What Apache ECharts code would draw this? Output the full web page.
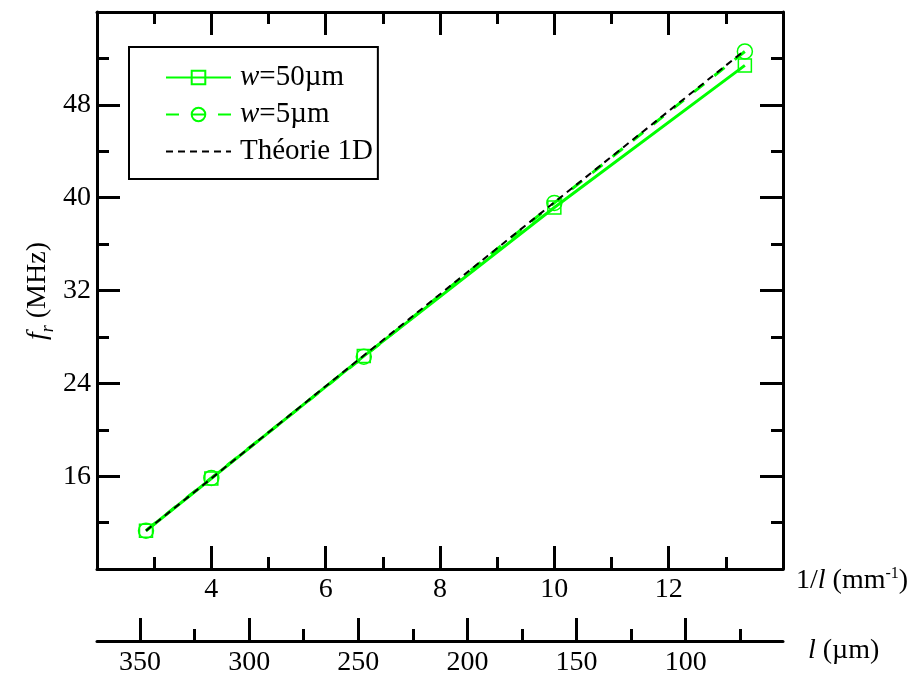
<!DOCTYPE html>
<html>
<head>
<meta charset="utf-8">
<script src="https://cdn.jsdelivr.net/npm/echarts@6/dist/echarts.min.js"></script>
<style>html,body{margin:0;padding:0;background:#fff}#c{width:912px;height:673px}</style>
</head>
<body>
<div id="c"></div>
<script>
// 1/l in mm^-1 (l = 350, 250, 150, 100, 75 µm)
const invL = [2.857, 4, 6.667, 10, 13.333];
const w50 = [11.3, 15.8, 26.35, 39.15, 51.4];
const w5 = [11.3, 15.85, 26.3, 39.55, 52.6];
const theory = [11.3, 15.8, 26.4, 39.6, 52.7];
const seriesNames = ['w=50µm', 'w=5µm', 'Théorie 1D'];
const lTicks = [350, 300, 250, 200, 150, 100];
const lMinorTicks = [325, 275, 225, 175, 125, 75];

const FONT = '"Liberation Serif", "Times New Roman", serif';
const FS = 28;
const LFS = 29;
const BLACK = '#000';
const GREEN = '#00ff00';
const axisLineStyle = {color: BLACK, width: 3};
const tickStyle = {color: BLACK, width: 3};

const chart = echarts.init(document.getElementById('c'), null, {renderer: 'canvas'});

const pairs = arr => invL.map((x, i) => [x, arr[i]]);

const option = {
  animation: false,
  backgroundColor: '#fff',
  grid: {left: 97, top: 12, width: 686, height: 557, containLabel: false, outerBoundsMode: 'none'},
  xAxis: [
    {
      type: 'value', position: 'bottom', min: 2, max: 14, interval: 2,
      axisLine: {show: true, onZero: false, lineStyle: axisLineStyle},
      axisTick: {show: true, inside: true, length: 23, lineStyle: tickStyle},
      minorTick: {show: true, splitNumber: 2, length: 12, lineStyle: tickStyle},
      axisLabel: {showMinLabel: false, showMaxLabel: false, fontSize: FS, fontFamily: FONT, color: BLACK, margin: 7},
      splitLine: {show: false}
    },
    {
      type: 'value', position: 'top', min: 2, max: 14, interval: 2,
      axisLine: {show: true, onZero: false, lineStyle: axisLineStyle},
      axisTick: {show: true, inside: true, length: 23, lineStyle: tickStyle},
      minorTick: {show: true, splitNumber: 2, length: 12, lineStyle: tickStyle},
      axisLabel: {show: false},
      splitLine: {show: false}
    },
    {
      type: 'value', position: 'bottom', offset: 72, min: 55.4, max: 369.7, inverse: true,
      axisLine: {show: true, onZero: false, lineStyle: axisLineStyle},
      axisTick: {show: true, inside: true, length: 23, lineStyle: tickStyle, customValues: lTicks},
      axisLabel: {show: true, customValues: lTicks, fontSize: FS, fontFamily: FONT, color: BLACK, margin: 8},
      splitLine: {show: false}
    },
    {
      type: 'value', position: 'bottom', offset: 72, min: 55.4, max: 369.7, inverse: true,
      axisLine: {show: false},
      axisTick: {show: true, inside: true, length: 12, lineStyle: tickStyle, customValues: lMinorTicks},
      axisLabel: {show: false},
      splitLine: {show: false}
    }
  ],
  yAxis: [
    {
      type: 'value', position: 'left', min: 8, max: 56, interval: 8,
      axisLine: {show: true, onZero: false, lineStyle: axisLineStyle},
      axisTick: {show: true, inside: true, length: 23, lineStyle: tickStyle},
      minorTick: {show: true, splitNumber: 2, length: 12, lineStyle: tickStyle},
      axisLabel: {showMinLabel: false, showMaxLabel: false, fontSize: FS, fontFamily: FONT, color: BLACK, margin: 6},
      splitLine: {show: false}
    },
    {
      type: 'value', position: 'right', min: 8, max: 56, interval: 8,
      axisLine: {show: true, onZero: false, lineStyle: axisLineStyle},
      axisTick: {show: true, inside: true, length: 23, lineStyle: tickStyle},
      minorTick: {show: true, splitNumber: 2, length: 12, lineStyle: tickStyle},
      axisLabel: {show: false},
      splitLine: {show: false}
    }
  ],
  legend: {
    orient: 'vertical', left: 129, top: 47,
    padding: [16, 5, 13, 36], itemGap: 8, itemWidth: 65, itemHeight: 17,
    borderColor: BLACK, borderWidth: 2, backgroundColor: '#fff',
    data: seriesNames,
    formatter: name => name.startsWith('w=') ? '{i|w}' + name.slice(1) : name,
    textStyle: {
      fontSize: LFS, fontFamily: FONT, color: BLACK, padding: [0, 0, 0, 4],
      rich: {i: {fontSize: LFS, fontFamily: FONT, fontStyle: 'italic', color: BLACK}}
    }
  },
  series: [
    {
      name: seriesNames[0], type: 'line', xAxisIndex: 0, yAxisIndex: 0,
      data: pairs(w50), symbol: 'rect', symbolSize: 13, z: 2,
      lineStyle: {color: GREEN, width: 3, type: 'solid'},
      itemStyle: {color: 'rgba(0,0,0,0)', borderColor: GREEN, borderWidth: 1.5}
    },
    {
      name: seriesNames[1], type: 'line', xAxisIndex: 0, yAxisIndex: 0,
      data: pairs(w5), symbol: 'circle', symbolSize: 15, z: 2,
      lineStyle: {color: GREEN, width: 3, type: [13, 13]},
      itemStyle: {color: 'rgba(0,0,0,0)', borderColor: GREEN, borderWidth: 1.5}
    },
    {
      name: seriesNames[2], type: 'line', xAxisIndex: 0, yAxisIndex: 0,
      data: pairs(theory), symbol: 'none', z: 3,
      lineStyle: {color: BLACK, width: 2, type: [7, 5]},
      itemStyle: {color: 'rgba(0,0,0,0)', borderWidth: 0}
    }
  ],
  graphic: [
    {
      type: 'text', left: 796, top: 566,
      style: {
        text: '1/{i|l} (mm{sup|-1})', fontSize: FS, fontFamily: FONT, fill: BLACK,
        rich: {
          i: {fontSize: FS, fontFamily: FONT, fontStyle: 'italic', fill: BLACK},
          sup: {fontSize: 16, fontFamily: FONT, fill: BLACK, verticalAlign: 'top', lineHeight: 30}
        }
      }
    },
    {
      type: 'text', left: 808, top: 637,
      style: {
        text: '{i|l} (µm)', fontSize: FS, fontFamily: FONT, fill: BLACK,
        rich: {i: {fontSize: FS, fontFamily: FONT, fontStyle: 'italic', fill: BLACK}}
      }
    },
    {
      type: 'text', x: 38, y: 291, rotation: Math.PI / 2,
      style: {
        text: '{i|f}{sub|r} (MHz)', fontSize: FS, fontFamily: FONT, fill: BLACK,
        align: 'center', verticalAlign: 'middle',
        rich: {
          i: {fontSize: FS, fontFamily: FONT, fontStyle: 'italic', fill: BLACK},
          sub: {fontSize: 18, fontFamily: FONT, fontStyle: 'italic', fill: BLACK, verticalAlign: 'bottom', lineHeight: 38}
        }
      }
    }
  ]
};
chart.setOption(option);
</script>
</body>
</html>
